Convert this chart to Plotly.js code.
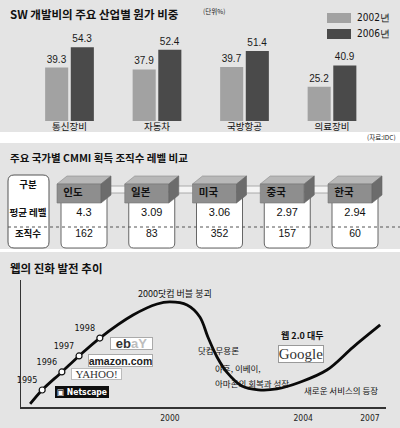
<!DOCTYPE html>
<html>
<head>
<meta charset="utf-8">
<script src="https://cdn.plot.ly/plotly-3.0.1.min.js"></script>
<style>html,body{margin:0;padding:0;background:#fff}#chart{width:400px;height:428px}</style>
</head>
<body>
<div id="chart"></div>
<script>
// ---------- data ----------
const industries = ['통신장비', '자동차', '국방항공', '의료장비'];
const seriesNames = ['2002년', '2006년'];
const share2002 = [39.3, 37.9, 39.7, 25.2];
const share2006 = [54.3, 52.4, 51.4, 40.9];

const countries = ['인도', '일본', '미국', '중국', '한국'];
const rowLabels = ['구분', '평균 레벨', '조직수'];
const avgLevel = ['4.3', '3.09', '3.06', '2.97', '2.94'];
const orgCount = [162, 83, 352, 157, 60];

// web evolution curve (schematic index, 0-100 on both axes)
const webX = [2.5, 5.8, 11.2, 15.9, 21.6, 30.7, 37.3, 40.8, 45.5, 49.0, 51.2, 53.7, 56.5, 60.5, 65.0, 70.1, 76.4, 83.8, 91.0, 98.4];
const webY = [2.4, 13.4, 27.6, 40.2, 54.3, 72.4, 81.1, 82.7, 80.3, 70.9, 55.1, 39.4, 27.0, 16.5, 13.5, 14.2, 19.5, 29.1, 47.2, 64.6];
const milestoneIdx = [1, 2, 3, 4];
const milestoneYears = ['1995', '1996', '1997', '1998'];
const webTickVals = [-1.4, 40.8, 77.3, 95.6];
const webTickText = ['1995', '2000', '2004', '2007'];

// ---------- helpers ----------
const W = 400, H = 428;
const px = x => x / W;
const py = y => 1 - y / H;
const KR = 'Noto Sans CJK KR, Noto Sans, sans-serif';
const NUM = 'Liberation Sans, Arial, sans-serif';
const NARROW = 'Liberation Sans Narrow, DejaVu Sans Condensed, Liberation Sans, sans-serif';
const BG = '#e4e4e4';
const C02 = '#a2a2a2', C06 = '#4a4a4a';

// table axis units
const colStep = 67.75, rowStep = 21.25, col0 = 84, row0 = 192;
const ux = 1 / colStep, uy = 1 / rowStep;
const X2 = (i, dpx) => i + dpx * ux;          // column index + pixel offset
const Y2 = (p) => (p - row0) * uy;             // absolute pixel row -> row units

const traces = [];
// ---- panel 1 bars ----
[share2002, share2006].forEach((vals, k) => {
  traces.push({
    type: 'bar', x: industries, y: vals, name: seriesNames[k],
    marker: { color: k === 0 ? C02 : C06, line: { width: 0 } },
    text: vals.map(v => v.toFixed(1)), textposition: 'outside',
    textfont: { family: NUM, size: 10, color: '#1a1a1a' },
    cliponaxis: false, xaxis: 'x', yaxis: 'y', hoverinfo: 'none'
  });
});

// ---- panel 2 table text ----
traces.push({
  type: 'scatter', mode: 'text', xaxis: 'x2', yaxis: 'y2',
  x: rowLabels.map(() => (28 - col0) * ux),
  y: rowLabels.map((_, r) => r === 0 ? -6 * uy : r),
  text: rowLabels.map(t => '<b>' + t + '</b>'),
  textfont: { family: KR, size: 9.5, color: '#111' }, hoverinfo: 'none'
});
traces.push({
  type: 'scatter', mode: 'text', xaxis: 'x2', yaxis: 'y2',
  x: countries.map((_, i) => X2(i, -11)), y: countries.map(() => 1 * uy),
  text: countries.map(t => '<b>' + t + '</b>'),
  textfont: { family: KR, size: 10.5, color: '#111' }, hoverinfo: 'none'
});
traces.push({
  type: 'scatter', mode: 'text', xaxis: 'x2', yaxis: 'y2',
  x: countries.map((_, i) => i), y: countries.map(() => 1),
  text: avgLevel, textfont: { family: NUM, size: 11, color: '#111' }, hoverinfo: 'none'
});
traces.push({
  type: 'scatter', mode: 'text', xaxis: 'x2', yaxis: 'y2',
  x: countries.map((_, i) => i), y: countries.map(() => 2),
  text: orgCount.map(String), textfont: { family: NUM, size: 10.5, color: '#111' }, hoverinfo: 'none'
});

// ---- panel 3 curve ----
traces.push({
  type: 'scatter', mode: 'lines', x: webX, y: webY, xaxis: 'x3', yaxis: 'y3',
  line: { color: '#0a0a0a', width: 2.8, shape: 'spline', smoothing: 1 }, hoverinfo: 'none'
});
traces.push({
  type: 'scatter', mode: 'markers+text', xaxis: 'x3', yaxis: 'y3',
  x: milestoneIdx.map(i => webX[i]), y: milestoneIdx.map(i => webY[i]),
  text: milestoneYears, textposition: 'top left',
  textfont: { family: NARROW, size: 9, color: '#111' },
  marker: { size: 6, color: '#fff', line: { color: '#111', width: 1.2 } },
  cliponaxis: false, hoverinfo: 'none'
});

// ---------- shapes ----------
const shapes = [];
// panel backgrounds
[[0, 132], [143, 249], [252, 428]].forEach(([a, b]) => shapes.push({
  type: 'rect', xref: 'paper', yref: 'paper', x0: 0, x1: 1, y0: py(b), y1: py(a),
  fillcolor: BG, line: { width: 0 }, layer: 'below'
}));
// legend swatches
[C02, C06].forEach((c, k) => shapes.push({
  type: 'rect', xref: 'paper', yref: 'paper', x0: px(327), x1: px(351),
  y0: py(23 + 16 * k), y1: py(13 + 16 * k), fillcolor: c, line: { width: 0 }, layer: 'below'
}));

function roundRect(x0, x1, y0, y1, rpx, topRound) {
  const rx = rpx * ux, ry = rpx * uy;
  let d = '';
  if (topRound) d += `M${x0},${y0 + ry} Q${x0},${y0} ${x0 + rx},${y0} L${x1 - rx},${y0} Q${x1},${y0} ${x1},${y0 + ry} `;
  else d += `M${x0},${y0} L${x1},${y0} `;
  d += `L${x1},${y1 - ry} Q${x1},${y1} ${x1 - rx},${y1} L${x0 + rx},${y1} Q${x0},${y1} ${x0},${y1 - ry} Z`;
  return d;
}
// left header box
shapes.push({
  type: 'path', xref: 'x2', yref: 'y2', layer: 'below',
  path: roundRect((8 - col0) * ux, (49 - col0) * ux, Y2(175), Y2(248), 6, true),
  fillcolor: '#ffffff', line: { color: '#555', width: 1 }
});
// value boxes
countries.forEach((_, i) => shapes.push({
  type: 'path', xref: 'x2', yref: 'y2', layer: 'below',
  path: roundRect(X2(i, -23), X2(i, 23), Y2(192), Y2(248), 5, false),
  fillcolor: '#ffffff', line: { color: '#666', width: 1 }
}));
// connector tubes
countries.slice(0, -1).forEach((_, i) => shapes.push({
  type: 'rect', xref: 'x2', yref: 'y2', layer: 'below',
  x0: X2(i, 20), x1: X2(i + 1, -24), y0: Y2(186), y1: Y2(193),
  fillcolor: '#f4f4f4', line: { color: '#9a9a9a', width: 0.8 }
}));
// 3D boxes
countries.forEach((_, i) => {
  const P = (dx, y) => `${X2(i, dx)},${Y2(y)}`;
  shapes.push({ type: 'path', xref: 'x2', yref: 'y2', layer: 'below',
    path: `M${P(-27, 184)} L${P(17, 184)} L${P(27, 176)} L${P(-17, 176)} Z`,
    fillcolor: '#b8b8b8', line: { color: '#8a8a8a', width: 0.6 } });
  shapes.push({ type: 'path', xref: 'x2', yref: 'y2', layer: 'below',
    path: `M${P(-27, 184)} L${P(17, 184)} L${P(17, 203)} L${P(-27, 203)} Z`,
    fillcolor: '#8e8e8e', line: { color: '#777', width: 0.6 } });
  shapes.push({ type: 'path', xref: 'x2', yref: 'y2', layer: 'below',
    path: `M${P(17, 184)} L${P(27, 176)} L${P(27, 195)} L${P(17, 203)} Z`,
    fillcolor: '#6c6c6c', line: { color: '#666', width: 0.6 } });
});
// dotted divider
shapes.push({
  type: 'line', xref: 'paper', yref: 'paper', x0: px(8), x1: 1, y0: py(227), y1: py(227),
  line: { color: '#555', width: 1, dash: 'dot' }, layer: 'above'
});

// ---------- annotations ----------
const ann = [];
const A = (text, x, y, o = {}) => ann.push(Object.assign({
  text, xref: 'paper', yref: 'paper', x: px(x), y: py(y), showarrow: false,
  xanchor: 'center', yanchor: 'middle', font: { family: KR, size: 9.5, color: '#111' }
}, o));
A('<b>SW 개발비의 주요 산업별 원가 비중</b>', 8, 14, { xanchor: 'left', font: { family: KR, size: 11.5, color: '#111' } });
A('(단위%)', 201, 11, { xanchor: 'left', font: { family: KR, size: 6.5, color: '#222' } });
seriesNames.forEach((s, k) => A(s, 355, 18 + 16 * k, { xanchor: 'left', font: { family: NARROW, size: 10, color: '#111' } }));
A('(자료:IDC)', 398, 137, { xanchor: 'right', font: { family: KR, size: 6.5, color: '#222' } });
A('<b>주요 국가별 CMMI 획득 조직수 레벨 비교</b>', 8, 157, { xanchor: 'left', font: { family: KR, size: 10.5, color: '#111' } });
A('<b>웹의 진화 발전 추이</b>', 8, 268, { xanchor: 'left', font: { family: KR, size: 11.5, color: '#111' } });

A('2000닷컴 버블 붕괴', 175, 293, { font: { family: KR, size: 9, color: '#111' } });
A('닷컴 무용론', 196, 350, { xanchor: 'left', font: { family: KR, size: 8.5, color: '#111' } });
A('야후, 이베이,', 213, 368, { xanchor: 'left', font: { family: KR, size: 8.5, color: '#111' } });
A('아마존의 회복과 성장', 213, 383, { xanchor: 'left', font: { family: KR, size: 8.5, color: '#111' } });
A('<b>웹 2.0 대두</b>', 302, 335, { font: { family: KR, size: 9, color: '#111' } });
A('새로운 서비스의 등장', 302, 390, { xanchor: 'left', font: { family: KR, size: 8.5, color: '#111' } });

// logo boxes
A('<b>eb</b><span style="color:#bdbdbd"><b>aY</b></span>', 131.5, 343.5, {
  width: 41, height: 11, bgcolor: '#ffffff', bordercolor: '#aaa', borderwidth: 1, borderpad: 0,
  font: { family: NUM, size: 13, color: '#333' } });
A('<b>amazon.com</b>', 120.5, 360.5, {
  width: 63, height: 11, bgcolor: '#ffffff', bordercolor: '#aaa', borderwidth: 1, borderpad: 0,
  font: { family: NUM, size: 10.5, color: '#222' } });
A('YAHOO!', 96.5, 374, {
  width: 49, height: 10, bgcolor: '#ffffff', bordercolor: '#bbb', borderwidth: 1, borderpad: 0,
  font: { family: 'Liberation Serif, serif', size: 11, color: '#333' } });
A('<b>▣ Netscape</b>', 82, 392, {
  width: 52, height: 10, bgcolor: '#0d0d0d', bordercolor: '#0d0d0d', borderwidth: 1, borderpad: 0,
  font: { family: NARROW, size: 8.5, color: '#ffffff' } });
A('Google', 301, 354, {
  width: 44, height: 16, bgcolor: '#ffffff', bordercolor: '#999', borderwidth: 1, borderpad: 0,
  font: { family: 'Liberation Serif, serif', size: 15, color: '#333' } });

// ---------- layout ----------
const layout = {
  width: W, height: H, margin: { l: 0, r: 0, t: 0, b: 0 },
  paper_bgcolor: '#ffffff', plot_bgcolor: 'rgba(0,0,0,0)',
  showlegend: false, hovermode: false,
  barmode: 'group', bargap: 0.414, bargroupgap: 0.1,
  xaxis: { domain: [px(25.75), px(375.75)], anchor: 'y', type: 'category',
    showgrid: false, zeroline: false, showline: false, ticks: '',
    tickfont: { family: KR, size: 9.5, color: '#111' }, ticklabelstandoff: -2, fixedrange: true },
  yaxis: { domain: [py(121), py(25.8)], anchor: 'x', range: [0, 70], visible: false, fixedrange: true },
  xaxis2: { domain: [0, 1], anchor: 'y2', range: [-col0 * ux, (W - col0) * ux], visible: false, fixedrange: true },
  yaxis2: { domain: [py(250), py(143)], anchor: 'x2', range: [Y2(250), Y2(143)], visible: false, fixedrange: true },
  xaxis3: { domain: [px(21), px(386)], anchor: 'y3', range: [0, 100], showgrid: false, zeroline: false,
    showline: true, linecolor: '#333', linewidth: 1.5, ticks: '',
    tickvals: webTickVals, ticktext: webTickText, ticklabelstandoff: 2,
    tickfont: { family: NARROW, size: 8.5, color: '#222' }, fixedrange: true },
  yaxis3: { domain: [py(407), py(280)], anchor: 'x3', range: [0, 100], showgrid: false, zeroline: false,
    showline: true, linecolor: '#333', linewidth: 1.5, showticklabels: false, ticks: '', fixedrange: true },
  shapes, annotations: ann
};

Plotly.newPlot('chart', traces, layout, { staticPlot: true, displayModeBar: false });
</script>
</body>
</html>
